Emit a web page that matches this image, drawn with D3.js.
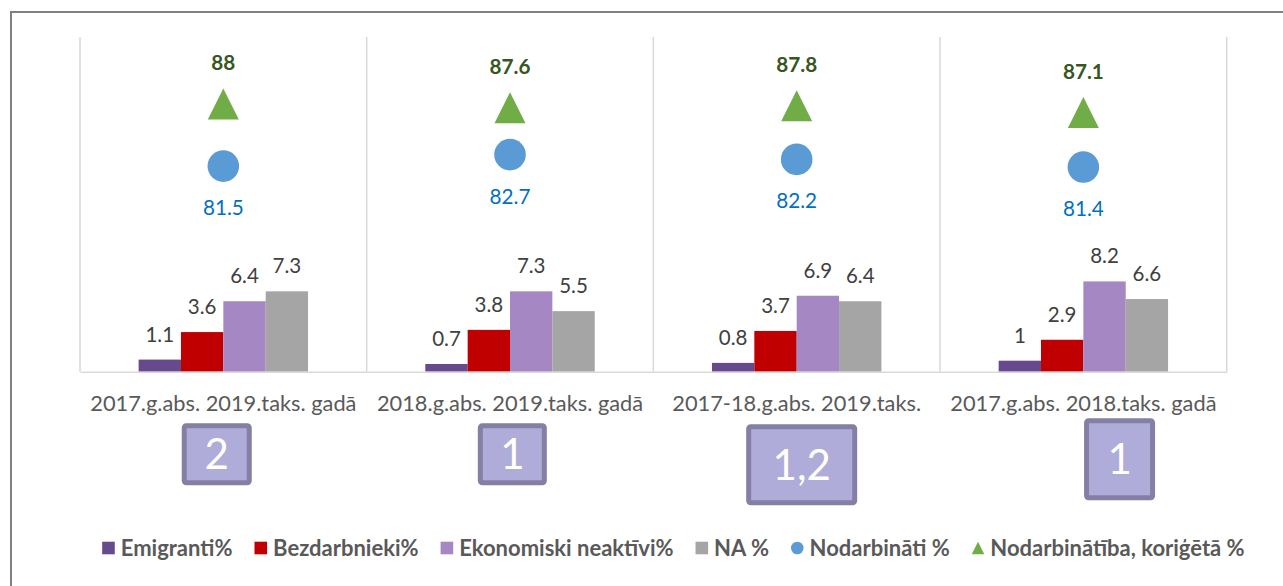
<!DOCTYPE html>
<html>
<head>
<meta charset="utf-8">
<script src="https://cdn.jsdelivr.net/npm/d3@7"></script>
<style>
  html, body { margin: 0; padding: 0; background: #fff; }
  svg { display: block; font-family: Lato, "Open Sans", sans-serif; }
</style>
</head>
<body>
<svg id="chart" width="1283" height="586"></svg>
<script>
// ---------- data ----------
const categories = [
  "2017.g.abs. 2019.taks. gadā",
  "2018.g.abs. 2019.taks. gadā",
  "2017-18.g.abs. 2019.taks.",
  "2017.g.abs. 2018.taks. gadā"
];
const barSeries = ["Emigranti%", "Bezdarbnieki%", "Ekonomiski neaktīvi%", "NA %"];
const emigranti = [1.1, 0.7, 0.8, 1];
const bezdarbnieki = [3.6, 3.8, 3.7, 2.9];
const ekonomiskiNeaktivi = [6.4, 7.3, 6.9, 8.2];
const naValues = [7.3, 5.5, 6.4, 6.6];
const nodarbinatiName = "Nodarbināti %";
const nodarbinati = [81.5, 82.7, 82.2, 81.4];
const korigetaName = "Nodarbinātība, koriģētā %";
const nodarbinatibaKorigeta = [88, 87.6, 87.8, 87.1];
const boxLabels = ["2", "1", "1,2", "1"];

// ---------- layout / style (not data) ----------
const barColors = ["#674A8D", "#C00000", "#A588C3", "#A5A5A5"];
const circleColor = "#5B9BD5";
const triColor = "#70AD47";
const plot = { left: 80, right: 1226.7, top: 37, bottom: 371.7 };
// annotation boxes: offset of centre from category centre, size, top
const boxLayout = [
  { dx: -6.6, w: 70, h: 62, top: 423.3 },
  { dx: 2.3, w: 69, h: 62, top: 423.3 },
  { dx: 5, w: 111, h: 81, top: 424.3 },
  { dx: 36.2, w: 71, h: 82, top: 418.3 }
];

const svg = d3.select("#chart");

// outer frame (clipped at right/bottom)
svg.append("path")
  .attr("d", "M11,600V12H1300")
  .attr("fill", "none")
  .attr("stroke", "#808080")
  .attr("stroke-width", 2);

const x0 = d3.scaleBand().domain(categories).range([plot.left, plot.right]).padding(0);
const groupW = x0.bandwidth() * 0.591;
const x1 = d3.scaleBand().domain(barSeries).range([0, groupW]).padding(0);
const y = d3.scaleLinear().domain([0, 30.4]).range([plot.bottom, plot.top]);
const y2 = d3.scaleLinear().domain([60, 95]).range([plot.bottom, plot.top]);

// category separators
const sepPos = categories.map(c => x0(c)).concat([plot.right]);
svg.append("g").selectAll("line").data(sepPos).join("line")
  .attr("x1", d => d).attr("x2", d => d)
  .attr("y1", plot.top).attr("y2", plot.bottom)
  .attr("stroke", "#D9D9D9").attr("stroke-width", 1.5);

// bars
const barData = [emigranti, bezdarbnieki, ekonomiskiNeaktivi, naValues];
const rows = [];
categories.forEach((c, i) => {
  barSeries.forEach((s, j) => rows.push({ c, s, j, v: barData[j][i] }));
});
const gBars = svg.append("g");
gBars.selectAll("rect").data(rows).join("rect")
  .attr("x", d => x0(d.c) + (x0.bandwidth() - groupW) / 2 + x1(d.s))
  .attr("width", x1.bandwidth())
  .attr("y", d => y(d.v))
  .attr("height", d => y(0) - y(d.v))
  .attr("fill", d => barColors[d.j]);
gBars.selectAll("text").data(rows).join("text")
  .attr("x", d => x0(d.c) + (x0.bandwidth() - groupW) / 2 + x1(d.s) + x1.bandwidth() / 2)
  .attr("y", d => y(d.v) - 18)
  .attr("text-anchor", "middle")
  .attr("font-size", 20.5)
  .attr("fill", "#404040")
  .text(d => d.v);

// baseline axis
const xAxis = d3.axisBottom(x0).tickSize(0).tickPadding(0);
const gx = svg.append("g").attr("transform", `translate(0,${plot.bottom})`).call(xAxis);
gx.select(".domain").attr("stroke", "#D9D9D9").attr("stroke-width", 1.5);
gx.selectAll("text")
  .attr("y", 0).attr("dy", 0)
  .attr("transform", "translate(0,39.5)")
  .attr("font-family", "Lato, sans-serif")
  .attr("font-size", 21.8)
  .attr("fill", "#595959");

// circles (secondary axis)
const cx = c => x0(c) + x0.bandwidth() / 2;
const gC = svg.append("g");
gC.selectAll("circle").data(categories).join("circle")
  .attr("cx", d => cx(d))
  .attr("cy", (d, i) => y2(nodarbinati[i]))
  .attr("r", 15.8)
  .attr("fill", circleColor);
gC.selectAll("text").data(categories).join("text")
  .attr("x", d => cx(d))
  .attr("y", (d, i) => y2(nodarbinati[i]) + 41.5 + 7.5)
  .attr("text-anchor", "middle")
  .attr("font-size", 20.7)
  .attr("fill", "#0070C0")
  .text((d, i) => nodarbinati[i]);

// triangles
const triPath = (s) => `M0,${-s/2}L${s/2},${s/2}L${-s/2},${s/2}Z`;
const gT = svg.append("g");
gT.selectAll("path").data(categories).join("path")
  .attr("transform", (d, i) => `translate(${cx(d)},${y2(nodarbinatibaKorigeta[i])})`)
  .attr("d", triPath(31))
  .attr("fill", triColor);
gT.selectAll("text").data(categories).join("text")
  .attr("x", d => cx(d))
  .attr("y", (d, i) => y2(nodarbinatibaKorigeta[i]) - 41 + 7.5)
  .attr("text-anchor", "middle")
  .attr("font-size", 20.7)
  .attr("font-weight", "bold")
  .attr("fill", "#375623")
  .text((d, i) => nodarbinatibaKorigeta[i]);

// annotation boxes
const gBox = svg.append("g");
categories.forEach((c, i) => {
  const L = boxLayout[i];
  const bx = cx(c) + L.dx - L.w / 2;
  gBox.append("rect")
    .attr("x", bx + 2.5).attr("y", L.top + 2.5)
    .attr("width", L.w - 5).attr("height", L.h - 5)
    .attr("rx", 2)
    .attr("fill", "#B0ACD9")
    .attr("stroke", "#837FA5")
    .attr("stroke-width", 5);
  gBox.append("text")
    .attr("x", cx(c) + L.dx)
    .attr("y", L.top + L.h / 2 + 15)
    .attr("text-anchor", "middle")
    .attr("font-size", 42)
    .attr("fill", "#ffffff")
    .text(boxLabels[i]);
});

// legend
const legendItems = [
  { name: barSeries[0], type: "rect", color: barColors[0] },
  { name: barSeries[1], type: "rect", color: barColors[1] },
  { name: barSeries[2], type: "rect", color: barColors[2] },
  { name: barSeries[3], type: "rect", color: barColors[3] },
  { name: nodarbinatiName, type: "circle", color: circleColor },
  { name: korigetaName, type: "tri", color: triColor }
];
const gL = svg.append("g");
const legY = 548;
let lx = 0;
const placed = [];
legendItems.forEach(it => {
  const g = gL.append("g");
  if (it.type === "rect") {
    g.append("rect").attr("x", 0).attr("y", -6.3).attr("width", 12.6).attr("height", 12.6).attr("fill", it.color);
  } else if (it.type === "circle") {
    g.append("circle").attr("cx", 6.3).attr("cy", 0).attr("r", 6.3).attr("fill", it.color);
  } else {
    g.append("path").attr("transform", "translate(6.3,0)").attr("d", triPath(12.6)).attr("fill", it.color);
  }
  const t = g.append("text").attr("x", 18.6).attr("y", 7.8)
    .attr("font-size", 22).attr("font-weight", "bold").attr("fill", "#595959")
    .text(it.name);
  const w = 18.6 + t.node().getComputedTextLength();
  placed.push({ g, x: lx });
  lx += w + 22;
});
const totalW = lx - 22;
const startX = 673.4 - totalW / 2;
placed.forEach(p => p.g.attr("transform", `translate(${startX + p.x},${legY})`));
</script>
</body>
</html>
